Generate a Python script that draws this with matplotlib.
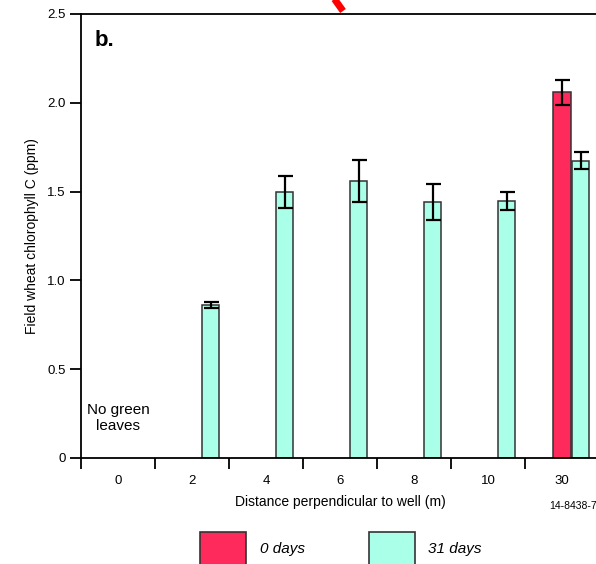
import matplotlib
matplotlib.use("Agg")
import matplotlib.pyplot as plt
from matplotlib.patches import Rectangle
from matplotlib.lines import Line2D
import numpy as np

plt.rcParams['font.family'] = ['Liberation Sans', 'DejaVu Sans']

categories = ["0", "2", "4", "6", "8", "10", "30"]
# 0 days series (only measured at 30 m)
days0_vals = [np.nan, np.nan, np.nan, np.nan, np.nan, np.nan, 2.06]
days0_err = [np.nan, np.nan, np.nan, np.nan, np.nan, np.nan, 0.07]
# 31 days series
days31_vals = [np.nan, 0.86, 1.50, 1.56, 1.44, 1.445, 1.675]
days31_err = [np.nan, 0.018, 0.09, 0.12, 0.10, 0.05, 0.05]
yticks = [0, 0.5, 1.0, 1.5, 2.0, 2.5]
ytick_labels = ["0", "0.5", "1.0", "1.5", "2.0", "2.5"]

RED = "#FF2A5C"
CYAN = "#AAFFE8"
EDGE = "#333333"

W, H = 596, 564
fig = plt.figure(figsize=(W / 100, H / 100), dpi=100)

x0_px, x_unit = 118, 74
xmin, xmax = -0.5, 6.5
ax_left = (x0_px + xmin * x_unit) / W
ax_width = (xmax - xmin) * x_unit / W
ax_bottom = (H - 458) / H
ax_height = (458 - 14) / H
ax = fig.add_axes([ax_left, ax_bottom, ax_width, ax_height])

x = np.arange(len(categories))
bw = 0.243
off = 0.25
ax.bar(x, days0_vals, width=bw, color=RED, edgecolor=EDGE, linewidth=1.1, zorder=2)
ax.bar(x + off, days31_vals, width=bw, color=CYAN, edgecolor=EDGE, linewidth=1.1, zorder=2)
ax.errorbar(x, days0_vals, yerr=days0_err, fmt='none', ecolor='black',
            elinewidth=1.6, capsize=5.4, capthick=1.6, zorder=3)
ax.errorbar(x + off, days31_vals, yerr=days31_err, fmt='none', ecolor='black',
            elinewidth=1.6, capsize=5.4, capthick=1.6, zorder=3)

ax.set_xlim(xmin, xmax)
ax.set_ylim(0, 2.5)
ax.spines['right'].set_visible(False)
for s in ['left', 'bottom', 'top']:
    ax.spines[s].set_linewidth(1.3)

ax.set_yticks(yticks)
ax.set_yticklabels(ytick_labels, fontsize=9.5)
ax.tick_params(axis='y', direction='out', length=8, width=1.3, pad=3)

ax.set_xticks(np.arange(-0.5, len(categories), 1.0))
ax.set_xticklabels([])
ax.tick_params(axis='x', which='major', direction='out', length=8, width=1.3)
ax.set_xticks(x, minor=True)
ax.set_xticklabels(categories, minor=True, fontsize=9.5)
ax.tick_params(axis='x', which='minor', length=0, pad=12)

ax.set_ylabel("Field wheat chlorophyll C (ppm)", fontsize=10, labelpad=6)
ax.set_xlabel("Distance perpendicular to well (m)", fontsize=10, labelpad=6)

ax.text(-0.5 + 14 / x_unit, 2.5 * 412 / 444, "b.", fontsize=16, fontweight='bold',
        va='baseline', ha='left')
ax.text(0, 0.225, "No green\nleaves", ha='center', va='center', fontsize=11,
        linespacing=1.2)

fig.text(549 / W, 1 - 506 / H, "14-8438-7", fontsize=7.5, ha='left', va='center')

# legend (manual)
def fy(py):
    return 1 - py / H
fig.add_artist(Rectangle((200 / W, fy(575)), 46 / W, 43 / H, transform=fig.transFigure,
                         facecolor=RED, edgecolor=EDGE, linewidth=1.2))
fig.text(260 / W, fy(549), "0 days", fontsize=11, style='italic', va='center', ha='left')
fig.add_artist(Rectangle((369 / W, fy(575)), 46 / W, 43 / H, transform=fig.transFigure,
                         facecolor=CYAN, edgecolor=EDGE, linewidth=1.2))
fig.text(428 / W, fy(549), "31 days", fontsize=11, style='italic', va='center', ha='left')

# red annotation stroke at top
fig.add_artist(Line2D([333 / W, 343 / W], [fy(-3), fy(11)], transform=fig.transFigure,
                      color='red', linewidth=5, solid_capstyle='butt'))

fig.savefig("out.png", dpi=100)
